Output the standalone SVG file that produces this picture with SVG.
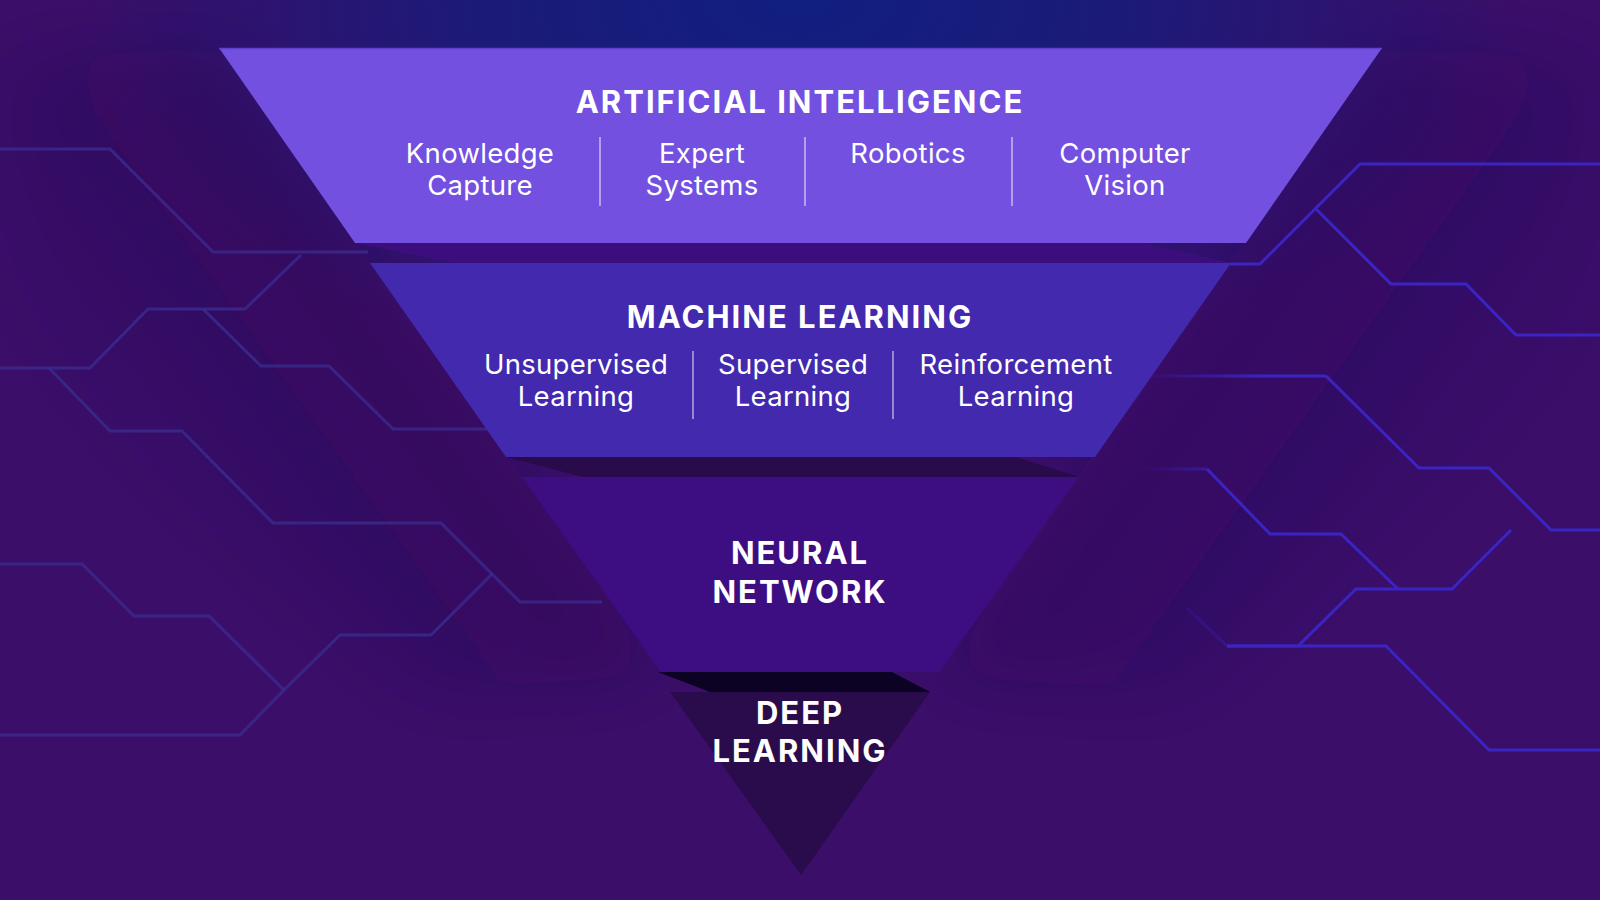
<svg xmlns="http://www.w3.org/2000/svg" width="1600" height="900" viewBox="0 0 1600 900">
  <defs>
    <radialGradient id="topGlow" cx="800" cy="0" r="720" gradientUnits="userSpaceOnUse" gradientTransform="translate(800 0) scale(1 0.55) translate(-800 0)">
      <stop offset="0" stop-color="#101f80"/>
      <stop offset="0.45" stop-color="#1c1a78"/>
      <stop offset="1" stop-color="#1c1a78" stop-opacity="0"/>
    </radialGradient>
    <linearGradient id="leftShade" x1="440" y1="360" x2="156" y2="563" gradientUnits="userSpaceOnUse">
      <stop offset="0" stop-color="#1a0640" stop-opacity="0.3"/>
      <stop offset="1" stop-color="#1a0640" stop-opacity="0"/>
    </linearGradient>
    <linearGradient id="rightShade" x1="1160" y1="360" x2="1444" y2="563" gradientUnits="userSpaceOnUse">
      <stop offset="0" stop-color="#1a0a50" stop-opacity="0.32"/>
      <stop offset="1" stop-color="#1a0a50" stop-opacity="0"/>
    </linearGradient>
    <linearGradient id="fadeInR" x1="1140" y1="0" x2="1260" y2="0" gradientUnits="userSpaceOnUse">
      <stop offset="0" stop-color="#3a24c2" stop-opacity="0"/>
      <stop offset="1" stop-color="#3a24c2" stop-opacity="1"/>
    </linearGradient>
    <filter id="soft" x="-0.3" y="-0.3" width="1.6" height="1.6">
      <feGaussianBlur stdDeviation="35"/>
    </filter>
    <style>
      .title { font-family: Inter, "Liberation Sans", sans-serif; font-weight: 700; font-size: 31px; fill: #ffffff; text-anchor: middle; letter-spacing: 2px; }
      .sub { font-family: Inter, "Liberation Sans", sans-serif; font-weight: 400; font-size: 27.5px; fill: #ffffff; text-anchor: middle; letter-spacing: 0.3px; }
      .div { stroke: #ffffff; stroke-opacity: 0.45; stroke-width: 2; }
      .cl { fill: none; stroke: #3b2d92; stroke-width: 3; stroke-opacity: 0.75; stroke-linejoin: miter; }
      .cr { fill: none; stroke: #3a24c2; stroke-width: 3; stroke-linejoin: miter; }
      .crf { fill: none; stroke: url(#fadeInR); stroke-width: 3; }
    </style>
  </defs>

  <g id="background">
    <rect x="0" y="0" width="1600" height="900" fill="#3b0e6a"/>
    <rect x="0" y="0" width="1600" height="500" fill="url(#topGlow)"/>
    <g filter="url(#soft)">
      <polygon points="219,48 661,672 420,700 0,360 0,60" fill="url(#leftShade)"/>
      <polygon points="1382,48 939,672 1180,700 1600,360 1600,60" fill="url(#rightShade)"/>
    </g>
  </g>

  <g id="circuit">
    <polyline class="cl" points="0,149 110,149 213,252 368,252"/>
    <polyline class="cl" points="301,255 245,309 148,309 90,368 0,368"/>
    <polyline class="cl" points="203,309 261,366 329,366 393,429 493,429"/>
    <polyline class="cl" points="49,368 110,431 182,431 273,523 441,523 520,602 602,602"/>
    <polyline class="cl" points="0,564 82,564 134,616 209,616 284,690"/>
    <polyline class="cl" points="492,574 431,635 340,635 284,690 240,735 0,735"/>

    <polyline class="cr" points="1230,264 1260,264 1360,164 1600,164"/>
    <polyline class="cr" points="1316,209 1391,284 1466,284 1516,335 1600,335"/>
    <polyline class="crf" points="1150,376 1326,376"/>
    <polyline class="cr" points="1326,376 1419,468 1489,468 1551,530 1600,530"/>
    <polyline class="cr" points="1511,530 1452,589 1356,589 1298,646 1227,646"/>
    <polyline class="crf" points="1140,469 1207,469"/>
    <polyline class="cr" points="1207,469 1270,534 1341,534 1398,589"/>
    <polyline class="crf" points="1187,608 1227,646" stroke-opacity="0.5"/>
    <polyline class="cr" points="1227,646 1386,646 1489,750 1600,750"/>
  </g>

  <g id="band-ai-ml">
    <polygon points="355,243 1143,243 1231,263 453,263" fill="#3c0e7d"/>
  </g>
  <g id="band-ml-nn">
    <polygon points="506,457 1016,457 1079,477 583,477" fill="#290b4b"/>
  </g>
  <g id="band-nn-dl">
    <polygon points="658,672 892,672 930,692 710,692" fill="#0c0224"/>
  </g>

  <g id="artificial-intelligence">
    <polygon points="219,48 1382,48 1246,243 355,243" fill="#7350df"/>
    <line x1="219" y1="48.5" x2="1382" y2="48.5" stroke="#5e40cc" stroke-width="1.5"/>
    <text class="title" x="800" y="113">ARTIFICIAL INTELLIGENCE</text>
    <text class="sub" x="480" y="163">Knowledge</text>
    <text class="sub" x="480" y="195">Capture</text>
    <line class="div" x1="600" y1="137" x2="600" y2="206"/>
    <text class="sub" x="702" y="163">Expert</text>
    <text class="sub" x="702" y="195">Systems</text>
    <line class="div" x1="805" y1="137" x2="805" y2="206"/>
    <text class="sub" x="908" y="163">Robotics</text>
    <line class="div" x1="1012" y1="137" x2="1012" y2="206"/>
    <text class="sub" x="1125" y="163">Computer</text>
    <text class="sub" x="1125" y="195">Vision</text>
  </g>

  <g id="machine-learning">
    <polygon points="370,263 1231,263 1095,457 506,457" fill="#4229ae"/>
    <text class="title" x="800" y="328">MACHINE LEARNING</text>
    <text class="sub" x="576" y="374">Unsupervised</text>
    <text class="sub" x="576" y="406">Learning</text>
    <line class="div" x1="693" y1="351" x2="693" y2="419"/>
    <text class="sub" x="793" y="374">Supervised</text>
    <text class="sub" x="793" y="406">Learning</text>
    <line class="div" x1="893" y1="351" x2="893" y2="419"/>
    <text class="sub" x="1016" y="374">Reinforcement</text>
    <text class="sub" x="1016" y="406">Learning</text>
  </g>

  <g id="neural-network">
    <polygon points="522,477 1079,477 939,672 661,672" fill="#3d0e82"/>
    <text class="title" x="800" y="564">NEURAL</text>
    <text class="title" x="800" y="603">NETWORK</text>
  </g>

  <g id="deep-learning">
    <polygon points="670,692 930,692 801,875" fill="#2a0c4c"/>
    <text class="title" x="800" y="724">DEEP</text>
    <text class="title" x="800" y="762">LEARNING</text>
  </g>
</svg>
